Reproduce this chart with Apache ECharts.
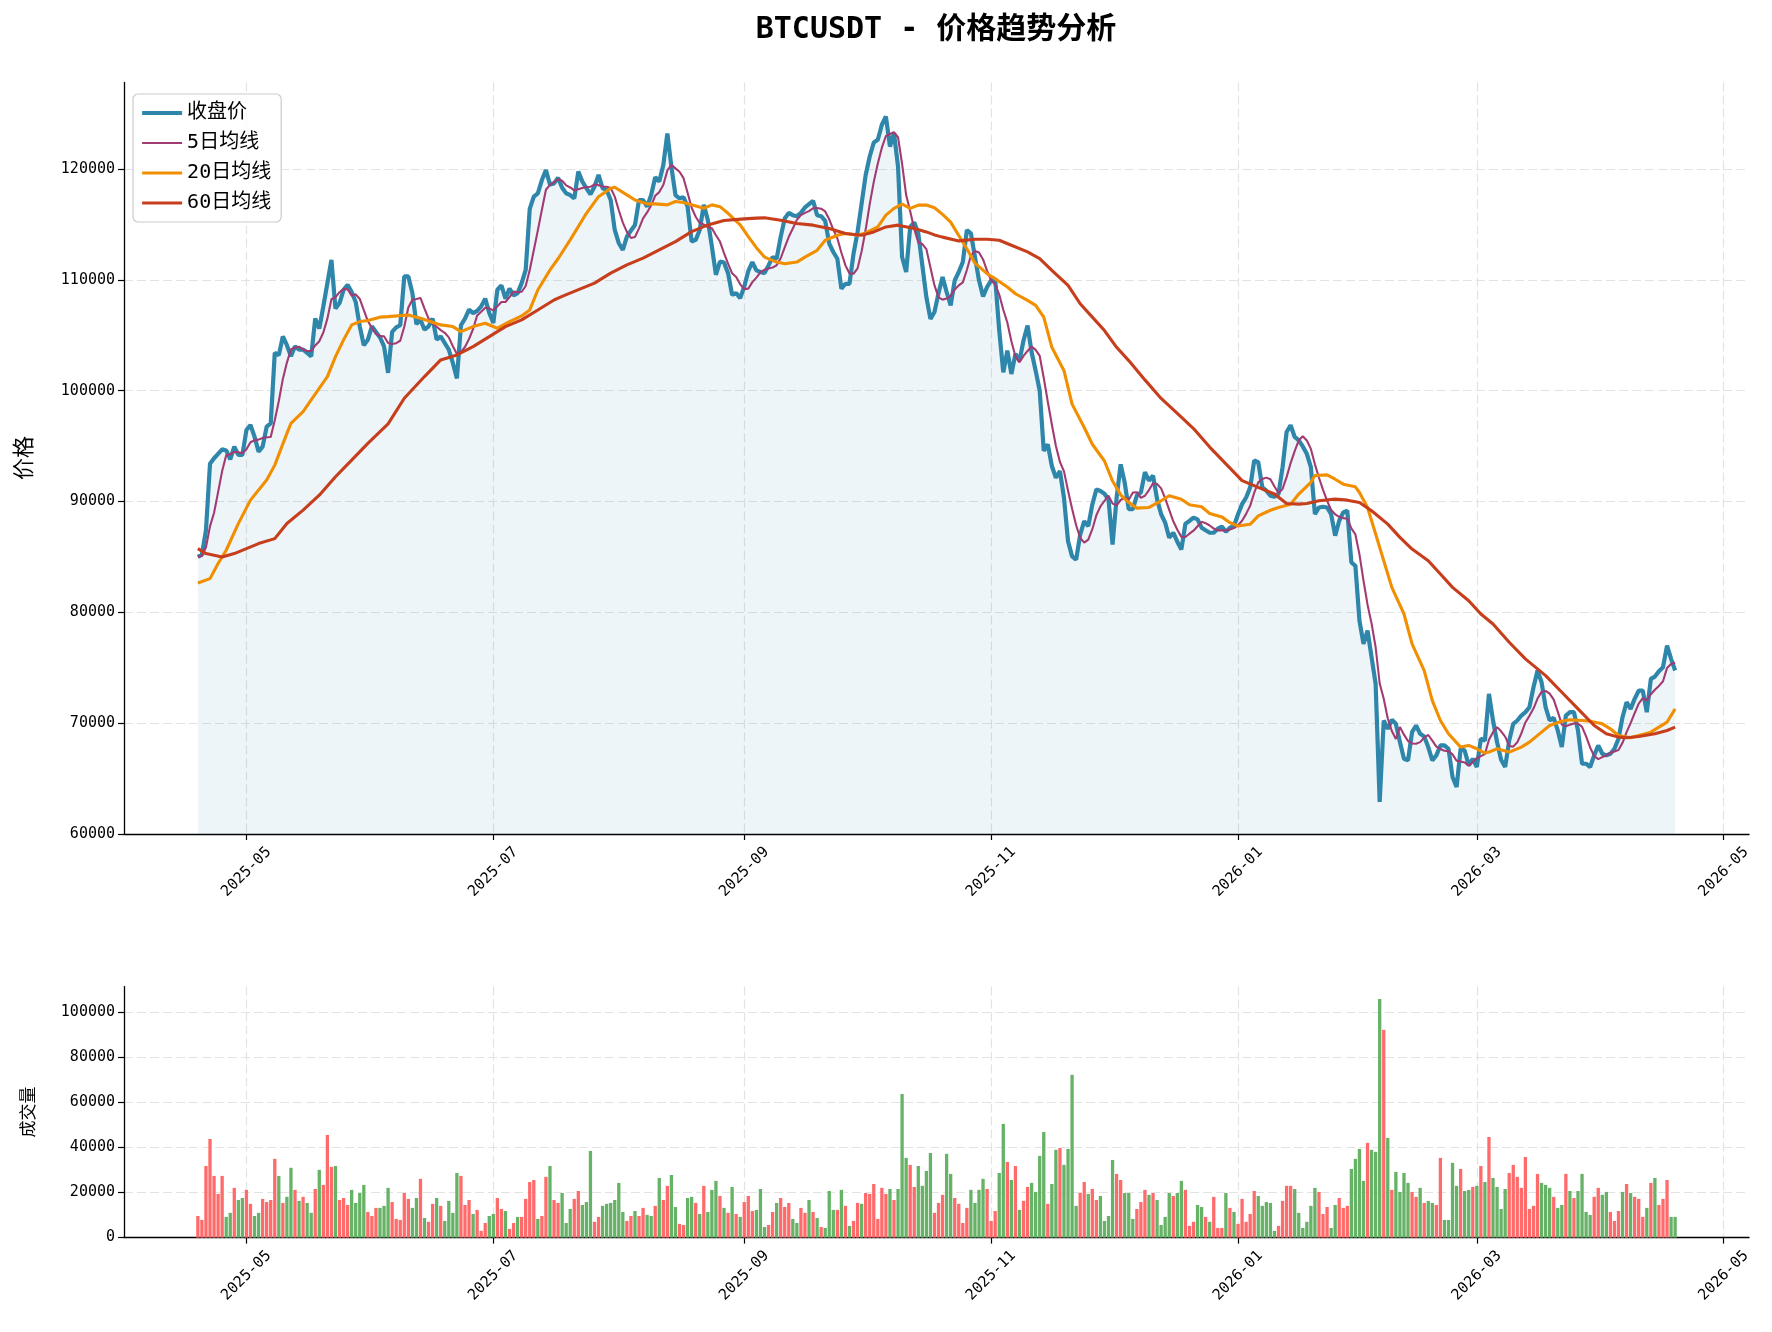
<!DOCTYPE html>
<html>
<head>
<meta charset="utf-8">
<title>BTCUSDT - 价格趋势分析</title>
<script src="https://cdn.jsdelivr.net/npm/echarts@6.0.0/dist/echarts.min.js"></script>
<style>
  html, body { margin: 0; padding: 0; background: #fff; }
  #main { width: 1772px; height: 1332px; }
</style>
</head>
<body>
<div id="main"></div>
<script>
// 数据：2025-04-19 起的日线
var startDate = '2025-04-19';

var closePrices = [
  85000, 85200, 87400, 93400, 93900, 94300, 94700, 94600, 93800, 94950,
  94200, 94200, 96450, 96900, 95850, 94500, 94950, 96750, 97050, 103400,
  103200, 104900, 104100, 103100, 104000, 103700, 103700, 103400, 103100, 106500,
  105600, 107600, 109700, 111800, 107400, 107900, 109100, 109550, 108900, 108000,
  105800, 104100, 104600, 105800, 105300, 104800, 104000, 101600, 105300, 105700,
  105900, 110300, 110300, 108800, 106000, 106400, 105500, 105800, 106500, 104600,
  104900, 104300, 103700, 102500, 101100, 105900, 106500, 107300, 107000, 107200,
  107600, 108300, 107000, 106100, 109100, 109500, 108300, 109200, 108600, 108800,
  109700, 110900, 116400, 117500, 117800, 119000, 119900, 118600, 118700, 119200,
  118300, 117800, 117650, 117350, 119760, 118860, 118260, 117720, 118400, 119460,
  118260, 118100, 117200, 114500, 113300, 112700, 113900, 114440, 114950, 117200,
  117200, 116600, 117650, 119250, 118860, 120360, 123200, 120200, 117650, 117350,
  117450, 116600, 113450, 113600, 114500, 116760, 115400, 113000, 110450, 111650,
  111560, 110600, 108650, 108800, 108350, 109400, 110800, 111600, 110850, 110700,
  110600, 111300, 112050, 111900, 113870, 115530, 116040, 115830, 115740, 116040,
  116530, 116830, 117130, 115830, 115740, 115320, 113260, 112510, 111900, 109190,
  109640, 109640, 112360, 114320, 116890, 119460, 121120, 122390, 122630, 123990,
  124740, 122020, 123230, 120210, 112050, 110700, 114770, 115170, 114170, 111300,
  108430, 106470, 107100, 108800, 110250, 108900, 107690, 109950, 110700, 111610,
  114480, 114180, 112060, 109950, 108500, 109350, 109950, 110100, 105420, 101650,
  103610, 101500, 103310, 102710, 104520, 105880, 103460, 101800, 99990, 94560,
  95160, 93200, 92140, 92750, 90330, 86410, 85050, 84750, 87010, 88220,
  87770, 89730, 91090, 90940, 90700, 90180, 86110, 90330, 93350, 91700,
  89300, 89300, 90520, 90820, 92640, 91880, 92330, 90210, 88850, 88090,
  86730, 87180, 86370, 85670, 88000, 88240, 88540, 88390, 87640, 87400,
  87180, 87180, 87550, 87730, 87270, 87640, 87790, 88850, 89760, 90360,
  91270, 93700, 93550, 91270, 90970, 90520, 90420, 90670, 93090, 96270,
  96880, 95820, 95520, 94970, 94300, 93100, 88860, 89460, 89520, 89460,
  88860, 86910, 88260, 89010, 89160, 84500, 84200, 79250, 77150, 78350,
  75950, 73540, 62900, 70240, 69490, 70300, 69940, 68290, 66790, 66640,
  69190, 69790, 69040, 68800, 67840, 66640, 67090, 67990, 67990, 67690,
  65140, 64240, 67690, 67540, 66190, 66790, 66040, 68590, 68440, 72640,
  70240, 68300, 66700, 66040, 68440, 69940, 70240, 70690, 70990, 71440,
  73240, 74740, 73690, 71440, 70240, 70480, 69340, 67840, 70690, 70990,
  70990, 69340, 66340, 66340, 66040, 67090, 67990, 67240, 67090, 67240,
  67690, 68590, 70540, 71890, 71290, 72190, 72940, 72940, 70990, 73990,
  74200, 74690, 75050, 77000, 75800, 74750
];

// 20日 / 60日均线（从图上读取的 [第几天, 数值]）
var ma20Points = [
  [0, 82650], [3, 83040], [5, 84400], [7, 85600], [10, 88000], [13, 90120], [17, 91930], [19, 93280],
  [22, 96140], [23, 97050], [26, 98100], [28, 99160], [32, 101270], [34, 103070], [36, 104580], [38, 105930],
  [40, 106230], [42, 106330], [45, 106630], [47, 106680], [52, 106830], [55, 106530], [60, 105930], [63, 105780],
  [65, 105330], [68, 105780], [71, 106080], [74, 105630], [77, 106230], [80, 106740], [82, 107280], [84, 109080],
  [87, 110890], [89, 111900], [92, 113600], [96, 116000], [99, 117500], [102, 118260], [103, 118350], [106, 117660],
  [108, 117200], [111, 116850], [113, 116850], [116, 116760], [118, 117060], [120, 116970], [122, 116760], [125, 116460],
  [127, 116760], [129, 116600], [131, 116000], [134, 114950], [136, 113900], [138, 112900], [140, 112050], [143, 111600],
  [145, 111450], [148, 111600], [150, 112050], [153, 112660], [155, 113570], [158, 114020], [160, 114170], [163, 114020],
  [165, 114230], [168, 114770], [170, 115830], [172, 116440], [174, 116830], [176, 116440], [178, 116740], [180, 116740],
  [182, 116500], [184, 115900], [186, 115200], [188, 114000], [190, 112800], [192, 111500], [195, 110550], [197, 110100],
  [200, 109350], [202, 108740], [205, 108140], [207, 107690], [209, 106630], [211, 103910], [214, 101800], [216, 98780],
  [219, 96670], [221, 95160], [224, 93650], [226, 91840], [228, 90600], [230, 89900], [232, 89400], [235, 89460],
  [238, 90060], [240, 90520], [243, 90210], [245, 89700], [248, 89520], [250, 88910], [253, 88610], [255, 88090],
  [257, 87790], [260, 87940], [262, 88700], [265, 89210], [267, 89460], [270, 89760], [272, 90670], [275, 91730],
  [276, 92350], [279, 92400], [281, 92010], [283, 91560], [286, 91320], [287, 90810], [289, 89460], [291, 87060],
  [293, 84650], [295, 82250], [298, 79850], [300, 77150], [303, 74740], [305, 72040], [307, 70240], [309, 69040],
  [312, 67840], [314, 67990], [316, 67690], [318, 67300], [319, 67390], [321, 67690], [324, 67390], [327, 67840],
  [329, 68290], [332, 69190], [334, 69790], [337, 70180], [339, 70300], [342, 70240], [344, 70180], [347, 69940],
  [349, 69490], [351, 68890], [354, 68680], [356, 68890], [359, 69190], [361, 69640], [363, 70090], [364, 70690],
  [365, 71290]
];

var ma60Points = [
  [0, 85750], [2, 85300], [6, 85000], [9, 85300], [12, 85750], [15, 86200], [19, 86650], [22, 88010],
  [26, 89220], [30, 90570], [34, 92230], [38, 93730], [42, 95240], [47, 97000], [51, 99310], [56, 101270],
  [60, 102770], [64, 103220], [68, 103970], [72, 104870], [76, 105780], [80, 106380], [84, 107280], [88, 108180],
  [90, 108500], [93, 108950], [98, 109700], [102, 110600], [106, 111350], [110, 111950], [114, 112700], [118, 113450],
  [122, 114350], [126, 114950], [130, 115350], [135, 115500], [138, 115560], [140, 115590], [144, 115380], [148, 115080],
  [152, 114930], [156, 114620], [160, 114170], [164, 114020], [167, 114320], [170, 114770], [173, 114930], [177, 114620],
  [180, 114320], [182, 114050], [184, 113850], [188, 113510], [192, 113660], [195, 113660], [198, 113570], [201, 113120],
  [205, 112520], [208, 111910], [211, 110860], [215, 109500], [218, 107840], [221, 106630], [224, 105420], [227, 103910],
  [230, 102710], [234, 100970], [238, 99300], [242, 97940], [246, 96580], [250, 94910], [254, 93390], [258, 91880],
  [262, 91270], [266, 90670], [269, 89820], [272, 89760], [274, 89820], [277, 90060], [281, 90210], [284, 90120],
  [287, 89910], [290, 89160], [294, 87960], [297, 86760], [300, 85710], [304, 84650], [307, 83450], [310, 82250],
  [314, 81050], [317, 79850], [320, 78950], [324, 77300], [328, 75800], [333, 74290], [337, 72790], [341, 71290],
  [345, 69790], [348, 69040], [351, 68740], [353, 68680], [356, 68800], [360, 69040], [363, 69340], [365, 69640]
];

var volumes = [
  9600, 7850, 31800, 43800, 27400, 19400, 27400, 9200, 11000, 22100,
  16700, 17600, 21200, 15000, 9600, 11000, 17200, 15800, 16700, 35000,
  27400, 15400, 18100, 31000, 21200, 16300, 18100, 15400, 11000, 21600,
  30100, 23400, 45600, 31400, 31800, 16700, 17600, 14500, 21200, 15400,
  19800, 23400, 11400, 9600, 13200, 13200, 14100, 22100, 15800, 8300,
  7850, 19800, 17200, 13200, 17600, 26100, 8700, 7000, 15000, 17600,
  14100, 7400, 16300, 11000, 28700, 27400, 14500, 16700, 10500, 12300,
  3000, 6500, 9600, 10500, 17600, 12700, 11800, 3850, 6500, 9200,
  9200, 17200, 24700, 25600, 8300, 9600, 27000, 31800, 16700, 15400,
  19800, 6500, 12700, 17200, 20700, 14500, 15800, 38500, 7000, 9200,
  14100, 15000, 15400, 16700, 24300, 11400, 7400, 9600, 11800, 9600,
  13200, 10100, 9600, 14100, 26500, 16700, 23000, 27800, 13600, 6100,
  5600, 17600, 18100, 15400, 10500, 23000, 11400, 21200, 25200, 18500,
  13200, 11000, 22500, 10500, 9200, 15800, 18500, 11800, 12300, 21600,
  4700, 5600, 11400, 15400, 17600, 13600, 15400, 8300, 6500, 13200,
  11000, 16700, 11400, 8700, 4700, 4300, 20700, 12300, 12300, 21200,
  14100, 5200, 7400, 15400, 15000, 19800, 19400, 23800, 8300, 22100,
  19400, 21600, 16700, 21600, 63800, 35400, 32300, 22500, 31800, 23000,
  29600, 37600, 11000, 15400, 19000, 37200, 28300, 17600, 15000, 6500,
  13200, 21200, 15400, 21200, 26100, 21600, 7400, 11800, 28700, 50500,
  33600, 25600, 31800, 12300, 16300, 22500, 24300, 20300, 36300, 46900,
  15000, 23800, 39000, 39800, 32300, 39400, 72300, 14100, 19800, 24700,
  19400, 21600, 16700, 18500, 7400, 9600, 34500, 28300, 25600, 19800,
  19800, 8300, 12700, 15800, 21200, 19000, 19800, 16700, 5600, 9200,
  19800, 18500, 19800, 25200, 21200, 5200, 7000, 14500, 13600, 9200,
  7000, 18100, 4300, 4300, 19800, 13200, 11400, 6100, 17200, 7000,
  10500, 20700, 18500, 14100, 15800, 15400, 3000, 5200, 16300, 23000,
  23000, 21600, 11000, 4300, 7000, 14100, 22100, 20300, 10500, 13600,
  4300, 14500, 17600, 13200, 14100, 30500, 35000, 39400, 25200, 42100,
  39000, 38100, 106000, 92300, 44300, 21200, 29200, 20300, 28700, 24300,
  20300, 18100, 22100, 15400, 16300, 15400, 14500, 35400, 7850, 7850,
  33200, 23000, 30500, 20700, 21200, 22500, 23000, 31800, 24700, 44700,
  26500, 22500, 12700, 21600, 28700, 32300, 27000, 22100, 35800, 12700,
  14100, 28300, 24300, 23400, 22100, 18100, 13200, 14500, 28300, 20700,
  17600, 20700, 28300, 11400, 10100, 18100, 22100, 19000, 20300, 11400,
  7400, 11800, 20300, 23800, 19800, 18100, 17200, 9200, 13200, 24300,
  26500, 14500, 17200, 25600, 9200, 9200
];

// 1 = 红柱, 0 = 绿柱
var volumeRed = [
  1,1,1,1,1,1,1,0,0,1, 0,0,1,1,0,0,1,1,1,1, 0,1,0,0,1,0,1,0,0,1, 0,1,1,1,0,1,1,1,0,0,
  0,0,1,1,1,0,0,0,1,1, 1,1,1,0,0,1,0,1,1,0, 1,0,0,0,0,1,1,1,0,1, 1,1,0,0,1,1,0,1,1,0,
  1,1,1,1,0,1,1,0,1,1, 0,0,0,1,1,0,0,0,1,1, 0,0,0,0,0,0,1,1,0,1, 1,0,0,1,0,1,1,0,0,1,
  1,0,0,1,0,1,0,0,0,1, 0,1,0,1,0,1,1,1,0,0, 0,1,1,0,1,1,1,0,0,1, 1,0,1,0,1,0,0,0,1,0,
  1,0,1,1,0,1,1,1,1,1, 1,0,1,0,0,0,1,1,0,0, 0,0,1,1,1,0,0,1,1,1, 1,0,0,0,0,1,1,1,0,0,
  1,0,1,0,1,1,0,0,0,0, 1,0,0,1,0,0,0,0,1,1, 0,1,1,0,0,0,0,1,1,0, 0,0,1,1,1,0,1,0,0,0,
  0,1,0,0,1,1,1,0,0,1, 0,1,1,1,0,1,0,1,1,1, 1,1,0,0,0,0,0,1,1,1, 1,0,0,0,0,0,0,1,1,1,
  0,0,1,1,1,0,0,0,0,1, 0,0,0,1,0,1,0,0,0,0, 1,1,0,1,0,0,1,1,0,0, 0,0,1,0,0,1,0,1,0,1,
  0,0,0,0,1,1,1,1,1,1, 1,1,0,0,0,1,0,0,1,0, 1,0,0,0,0,1,1,0,0,1, 1,1,0,1,0,1,1,1,0,1,
  0,1,1,1,0,0
];

var monthTicks = ['2025-05-01', '2025-07-01', '2025-09-01', '2025-11-01', '2026-01-01', '2026-03-01', '2026-05-01'];
var priceTicks = [60000, 70000, 80000, 90000, 100000, 110000, 120000];
var volumeTicks = [0, 20000, 40000, 60000, 80000, 100000];

// ---------- 构建 ----------
function parseDay(s) {
  var p = s.split('-');
  return new Date(+p[0], +p[1] - 1, +p[2]);
}
var d0 = parseDay(startDate);
function dayTime(i) {
  return new Date(d0.getFullYear(), d0.getMonth(), d0.getDate() + i).getTime();
}

var ma5 = closePrices.map(function (v, i) {
  var from = Math.max(0, i - 4), s = 0;
  for (var k = from; k <= i; k++) s += closePrices[k];
  return Math.round(s / (i - from + 1));
});

var closeData = closePrices.map(function (v, i) { return [dayTime(i), v]; });
var ma5Data = ma5.map(function (v, i) { return [dayTime(i), v]; });
var ma20Data = ma20Points.map(function (p) { return [dayTime(p[0]), p[1]]; });
var ma60Data = ma60Points.map(function (p) { return [dayTime(p[0]), p[1]]; });
var volData = volumes.map(function (v, i) {
  return { value: [dayTime(i), v], itemStyle: { color: volumeRed[i] ? '#ff6b6b' : '#66b266' } };
});

var tickTimes = monthTicks.map(function (s) { return parseDay(s).getTime(); });
var xMin = new Date(2025, 2, 31, 18).getTime();
var xMax = new Date(2026, 4, 7, 6).getTime();

var FONT = '"DejaVu Sans Mono", "Noto Sans CJK SC", sans-serif';
var AXIS_COLOR = '#000';
var gridLine = { show: true, lineStyle: { color: '#e3e3e3', width: 1.2, type: [9, 4] } };

function fmtMonth(v) {
  var d = new Date(v + 43200000);
  var m = d.getMonth() + 1;
  return d.getFullYear() + '-' + (m < 10 ? '0' + m : m);
}

// 时间轴用数值轴承载时间戳，刻度放在每两个月的月初
function timeAxis(gi) {
  return {
    type: 'value', gridIndex: gi, min: xMin, max: xMax, scale: true,
    axisLine: { show: true, onZero: false, lineStyle: { color: AXIS_COLOR, width: 1.3 } },
    axisTick: { show: true, length: 6, customValues: tickTimes, lineStyle: { color: AXIS_COLOR, width: 1.2 } },
    axisLabel: {
      customValues: tickTimes, formatter: fmtMonth, rotate: 45, align: 'center', verticalAlign: 'middle',
      margin: 38, fontSize: 15, color: '#000', fontFamily: FONT, hideOverlap: false
    },
    splitLine: gridLine
  };
}

function valueAxis(gi, min, max, ticks) {
  return {
    type: 'value', gridIndex: gi, min: min, max: max,
    axisLine: { show: true, onZero: false, lineStyle: { color: AXIS_COLOR, width: 1.3 } },
    axisTick: { show: true, length: 6, customValues: ticks, lineStyle: { color: AXIS_COLOR, width: 1.2 } },
    axisLabel: {
      customValues: ticks, formatter: function (v) { return String(v); },
      fontSize: 15, color: '#000', fontFamily: FONT, margin: 9
    },
    splitLine: gridLine
  };
}

var myChart = echarts.init(document.getElementById('main'));
myChart.setOption({
  animation: false,
  backgroundColor: '#fff',
  textStyle: { fontFamily: FONT },
  grid: [
    { left: 124, right: 23, top: 82.5, height: 751.5 },
    { left: 124, right: 23, top: 986.6, height: 251 }
  ],
  xAxis: [timeAxis(0), timeAxis(1)],
  yAxis: [
    valueAxis(0, 60000, 127800, priceTicks),
    valueAxis(1, 0, 111500, volumeTicks)
  ],
  legend: {
    data: [
      { name: '收盘价', lineStyle: { width: 4.2 } },
      { name: '5日均线', lineStyle: { width: 2.1 } },
      { name: '20日均线', lineStyle: { width: 3.1 } },
      { name: '60日均线', lineStyle: { width: 3.1 } }
    ],
    orient: 'vertical', left: 133, top: 94,
    itemWidth: 40, itemHeight: 14, itemGap: 10,
    padding: [9, 10, 9, 7],
    itemStyle: { opacity: 0 },
    backgroundColor: 'rgba(255,255,255,0.8)',
    borderColor: '#cccccc', borderWidth: 1.2, borderRadius: 5,
    textStyle: { fontSize: 20, color: '#000', fontFamily: FONT, lineHeight: 20 }
  },
  graphic: [
    { type: 'text', x: 936, y: 30, z: 10,
      style: { text: 'BTCUSDT - 价格趋势分析', fontSize: 30, fontWeight: 'bold', fontFamily: FONT,
               fill: '#000', textAlign: 'center', textVerticalAlign: 'middle' } },
    { type: 'text', x: 25, y: 458, rotation: Math.PI / 2, z: 10,
      style: { text: '价格', fontSize: 22, fontFamily: FONT, fill: '#000',
               textAlign: 'center', textVerticalAlign: 'middle' } },
    { type: 'text', x: 30, y: 1112, rotation: Math.PI / 2, z: 10,
      style: { text: '成交量', fontSize: 17, fontFamily: FONT, fill: '#000',
               textAlign: 'center', textVerticalAlign: 'middle' } }
  ],
  series: [
    { name: '收盘价', type: 'line', xAxisIndex: 0, yAxisIndex: 0, data: closeData,
      symbol: 'none', z: 2, lineStyle: { color: '#2e86ab', width: 4.2 },
      itemStyle: { color: '#2e86ab' },
      areaStyle: { color: 'rgba(46,134,171,0.12)', origin: 'start' } },
    { name: '5日均线', type: 'line', xAxisIndex: 0, yAxisIndex: 0, data: ma5Data,
      symbol: 'none', z: 3, lineStyle: { color: '#a23b72', width: 2.1 }, itemStyle: { color: '#a23b72' } },
    { name: '20日均线', type: 'line', xAxisIndex: 0, yAxisIndex: 0, data: ma20Data,
      symbol: 'none', z: 4, lineStyle: { color: '#f18f01', width: 3.1 }, itemStyle: { color: '#f18f01' } },
    { name: '60日均线', type: 'line', xAxisIndex: 0, yAxisIndex: 0, data: ma60Data,
      symbol: 'none', z: 5, lineStyle: { color: '#c73e1d', width: 3.1 }, itemStyle: { color: '#c73e1d' } },
    { name: '成交量', type: 'bar', xAxisIndex: 1, yAxisIndex: 1, data: volData,
      barWidth: 3.3, barGap: '0%' }
  ]
});
</script>
</body>
</html>
